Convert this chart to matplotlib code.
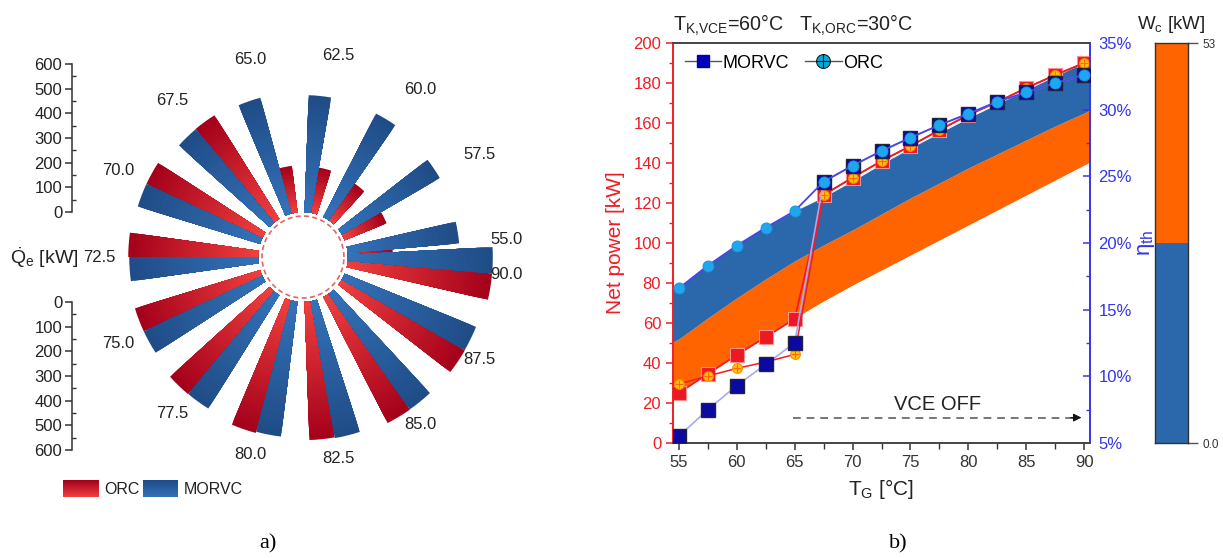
import numpy as np
import matplotlib
matplotlib.use('Agg')
import matplotlib.pyplot as plt
from matplotlib.lines import Line2D
from matplotlib.legend_handler import HandlerTuple
from matplotlib.colors import to_rgb
import matplotlib.ticker as mticker

plt.rcParams['font.family'] = ['Liberation Sans', 'DejaVu Sans']
plt.rcParams['mathtext.fontset'] = 'custom'
plt.rcParams['mathtext.rm'] = 'Liberation Sans'
plt.rcParams['mathtext.it'] = 'Liberation Sans:italic'
plt.rcParams['mathtext.bf'] = 'Liberation Sans:bold'

# ---------------- data ----------------
T_G = [55, 57.5, 60, 62.5, 65, 67.5, 70, 72.5, 75, 77.5, 80, 82.5, 85, 87.5, 90]
T_labels = ['55.0', '57.5', '60.0', '62.5', '65.0', '67.5', '70.0', '72.5',
            '75.0', '77.5', '80.0', '82.5', '85.0', '87.5', '90.0']

# panel a) evaporator heat [kW]
Qe_ORC = [182, 183, 182, 186, 190, 495, 518, 526, 530, 543, 556, 560, 573, 575, 587]
Qe_MORVC = [453, 458, 470, 474, 486, 494, 518, 522, 530, 542, 551, 563, 572, 574, 587]
radial_ticks = [0, 100, 200, 300, 400, 500, 600]

# panel b) net power [kW] and thermal efficiency [%]
P_MORVC = [25, 34.5, 44, 53, 62, 124, 132.7, 141, 148.5, 156.5, 164, 170.5, 177.5, 184, 190]
P_ORC = [29.5, 33.5, 37.3, 40.5, 44.3, 124, 132.7, 141, 148.5, 156.5, 164, 170.5, 177.5, 184, 190]
eta_MORVC = [5.5, 7.5, 9.3, 10.9, 12.5, 24.6, 25.8, 26.9, 27.9, 28.85, 29.7, 30.6, 31.3, 32.0, 32.6]
eta_ORC = [16.6, 18.3, 19.8, 21.15, 22.4, 24.6, 25.8, 26.9, 27.9, 28.85, 29.7, 30.6, 31.3, 32.0, 32.6]

# W_c bands (net power, kW)
band_T = [54.5, 55, 57.5, 60, 62.5, 65, 67.5, 70, 72.5, 75, 77.5, 80, 82.5, 85, 87.5, 90, 90.5]
band_low = [23.5, 25.5, 35, 44, 53, 62.5, 71, 79, 86.5, 94, 101.5, 109, 116.5, 124, 131.5, 139, 140.5]
band_mid = [50.5, 52, 62.5, 72.5, 82, 91, 99, 106.5, 114.5, 122.5, 130, 137.5, 144.5, 151.5, 158.5, 165, 166.5]
band_top = [77, 78, 89, 99, 108, 116, 123, 131, 139.5, 147.5, 155, 162.5, 169.5, 176.5, 183.5, 190, 191]
Wc_limits = [0, 53]

# ---------------- figure ----------------
W, H = 1223, 558
fig = plt.figure(figsize=(W / 100, H / 100), dpi=100)


def fx(px):
    return px / W


def fy(py):
    return 1 - py / H


RED_IN, RED_OUT = '#f0403f', '#a3001a'
BLUE_IN, BLUE_OUT = '#3472b9', '#1f4c86'

# ---------- panel a) polar bars ----------
cx, cy, R = 303, 257, 193
r_min = -182
axp = fig.add_axes([fx(cx - R), fy(cy + R), 2 * R / W, 2 * R / H], projection='polar')
axp.set_ylim(r_min, 600)
axp.set_theta_zero_location('E')
axp.set_axis_off()

theta_c = np.deg2rad(5 + (np.array(T_G) - 55) * 10)
bw = np.deg2rad(8)


def gradient_bars(ax, theta, values, c_in, c_out, n=40):
    # overlapping bars (longest/darkest first) -> smooth gradient without seams
    c_in = np.array(to_rgb(c_in))
    c_out = np.array(to_rgb(c_out))
    for th, v in zip(theta, values):
        for i in range(n, 0, -1):
            f = (i - 0.5) / n
            col = c_in + (c_out - c_in) * f
            ax.bar(th, v * i / n, width=bw, bottom=0, color=col, linewidth=0,
                   align='center')


gradient_bars(axp, theta_c - bw / 2, Qe_ORC, RED_IN, RED_OUT)
gradient_bars(axp, theta_c + bw / 2, Qe_MORVC, BLUE_IN, BLUE_OUT)

th = np.linspace(0, 2 * np.pi, 300)
axp.plot(th, np.full_like(th, -16), ls=(0, (3, 2)), color='#e06565', lw=1.2)

for t, lab in zip(theta_c, T_labels):
    axp.text(t, 645, lab, ha='center', va='center', fontsize=12, color='#222222')

# radial axes on the left
r0 = R * (0 - r_min) / (600 - r_min)
spx = 72
axu = fig.add_axes([fx(spx), fy(cy - r0), 0.0001, (R - r0) / H])
axl = fig.add_axes([fx(spx), fy(cy + R), 0.0001, (R - r0) / H])
for a, lim in ((axu, (0, 600)), (axl, (600, 0))):
    a.set_ylim(*lim)
    a.set_xticks([])
    for s in ('top', 'right', 'bottom'):
        a.spines[s].set_visible(False)
    a.spines['left'].set_color('#333333')
    a.spines['left'].set_linewidth(1.1)
    a.set_yticks(radial_ticks)
    a.yaxis.set_minor_locator(mticker.MultipleLocator(50))
    a.tick_params(axis='y', which='major', direction='out', length=5, width=1.1,
                  color='#333333', labelsize=12, labelcolor='#222222', pad=2)
    a.tick_params(axis='y', which='minor', direction='in', length=3, width=1,
                  color='#333333')
    a.patch.set_visible(False)

fig.text(fx(10), fy(258), r'$\dot{\mathrm{Q}}_\mathrm{e}$ [kW]', ha='left', va='center',
         fontsize=14, color='#222222')


# legend of panel a)
def grad_patch(x0, x1, y0, y1, c_top, c_bot):
    a = fig.add_axes([fx(x0), fy(y1), (x1 - x0) / W, (y1 - y0) / H])
    ct, cb = np.array(to_rgb(c_top)), np.array(to_rgb(c_bot))
    f = np.linspace(0, 1, 30)[:, None]
    img = (ct + (cb - ct) * f)[:, None, :]
    a.imshow(img, aspect='auto', interpolation='bilinear')
    a.set_axis_off()


grad_patch(63, 99, 480, 497, RED_OUT, RED_IN)
fig.text(fx(104), fy(489), 'ORC', ha='left', va='center', fontsize=11.5, color='#222222')
grad_patch(143, 178, 480, 497, BLUE_OUT, BLUE_IN)
fig.text(fx(184), fy(489), 'MORVC', ha='left', va='center', fontsize=11.5, color='#222222')

fig.text(fx(268), fy(544), 'a)', ha='center', va='center', fontsize=16,
         family='Liberation Serif')
fig.text(fx(898), fy(544), 'b)', ha='center', va='center', fontsize=16,
         family='Liberation Serif')

# ---------- panel b) ----------
RED = '#f01c24'
BLUE_AX = '#3535e8'
ax = fig.add_axes([fx(673), fy(443), (1090 - 673) / W, 400 / H])
ax.set_xlim(54.5, 90.5)
ax.set_ylim(0, 200)
ax.fill_between(band_T, band_low, band_mid, color='#ff6400', lw=0, zorder=1)
ax.fill_between(band_T, band_mid, band_top, color='#2b67ab', lw=0, zorder=1)

ax.plot(T_G, P_MORVC, color=RED, lw=1.3, marker='s', ms=10, mfc='#ec1822',
        mec='#ff9090', mew=0.8, zorder=3)
ax.plot(T_G, P_ORC, color=RED, lw=1.1, marker='o', ms=7, mfc='#ffc20e',
        mec='#ff8a00', mew=0.8, zorder=4)
ax.plot(T_G, P_ORC, ls='none', marker='+', ms=6, mec='#ff6a00', mew=0.8, zorder=5)

# VCE OFF annotation
ax.plot([64.9, 89.2], [12.7, 12.7], ls=(0, (4, 3)), color='#777777', lw=1.4, zorder=2)
ax.annotate('', xy=(90, 12.7), xytext=(88.6, 12.7),
            arrowprops=dict(arrowstyle='-|>', color='#111111', lw=0.8, mutation_scale=12))
ax.text(77.35, 19.5, 'VCE OFF', ha='center', va='center', fontsize=14.5, color='#222222')

ax.set_xticks(np.arange(55, 91, 5))
ax.xaxis.set_minor_locator(mticker.MultipleLocator(2.5))
ax.set_yticks(np.arange(0, 201, 20))
ax.yaxis.set_minor_locator(mticker.MultipleLocator(10))
ax.tick_params(axis='x', which='major', direction='out', length=5, width=1.1,
               color='#333333', labelcolor='#333333', labelsize=12)
ax.tick_params(axis='x', which='minor', direction='out', length=4, width=1, color='#333333')
ax.tick_params(axis='y', which='major', direction='out', length=5, width=1.1,
               color=RED, labelcolor=RED, labelsize=12)
ax.tick_params(axis='y', which='minor', direction='out', length=3, width=1, color=RED)
ax.set_ylabel('Net power [kW]', color=RED, fontsize=15, labelpad=6)
ax.set_xlabel(r'T$_\mathrm{G}$ [°C]', color='#222222', fontsize=15, labelpad=5)

ax2 = ax.twinx()
ax2.set_ylim(5, 35)
ax2.plot(T_G, eta_MORVC, color='#a8a8f2', lw=1.2, marker='s', ms=10, mfc='#0a0aa2',
         mec='#22223a', mew=1.0, zorder=3)
ax2.plot(T_G, eta_ORC, color='#4646e6', lw=1.3, marker='o', ms=8, mfc='#1ea6ee',
         mec='#1f8fd8', mew=0.6, zorder=4)
ax2.set_yticks(np.arange(5, 36, 5))
ax2.yaxis.set_minor_locator(mticker.MultipleLocator(2.5))
ax2.yaxis.set_major_formatter(mticker.FuncFormatter(lambda v, p: f'{v:.0f}%'))
ax2.tick_params(axis='y', which='major', direction='in', length=5, width=1.1,
                color=BLUE_AX, labelcolor=BLUE_AX, labelsize=12, pad=6)
ax2.tick_params(axis='y', which='minor', direction='in', length=3, width=1, color=BLUE_AX)
ax2.set_ylabel(r'η$_\mathrm{th}$', color=BLUE_AX, fontsize=16, rotation=90, labelpad=3)

for a in (ax, ax2):
    a.spines['left'].set_color(RED)
    a.spines['right'].set_color(BLUE_AX)
    a.spines['top'].set_color('#444444')
    a.spines['bottom'].set_color('#444444')
    for s in a.spines.values():
        s.set_linewidth(1.2)

h1 = Line2D([], [], color='#555555', lw=1, marker='s', ms=9, mfc='#0000b4', mec='#0000b4')
h2a = Line2D([], [], color='#555555', lw=1, marker='o', ms=10, mfc='#0aa8d6', mec='#222222', mew=0.8)
h2b = Line2D([], [], ls='none', marker='+', ms=10, mec='#111111', mew=0.8)
ax2.legend([h1, (h2a, h2b)], ['MORVC', 'ORC'], handler_map={tuple: HandlerTuple(ndivide=1)},
           loc='upper left', ncol=2, frameon=False, fontsize=13, handlelength=2.0,
           handletextpad=0.1, columnspacing=0.9, borderaxespad=0.25)

fig.text(fx(673), fy(25), r'T$_\mathrm{K{,}VCE}$=60°C   T$_\mathrm{K{,}ORC}$=30°C',
         ha='left', va='center', fontsize=14.2, color='#222222')

# colour bar for W_c
axc = fig.add_axes([fx(1155), fy(443), 33 / W, 400 / H])
axc.set_xlim(0, 1)
axc.set_ylim(*Wc_limits)
axc.axhspan(Wc_limits[0], np.mean(Wc_limits), color='#2b67ab', lw=0)
axc.axhspan(np.mean(Wc_limits), Wc_limits[1], color='#ff6400', lw=0)
axc.set_xticks([])
axc.yaxis.tick_right()
axc.set_yticks(Wc_limits)
axc.set_yticklabels(['0.0', '53'])
axc.tick_params(axis='y', length=7, width=1, color='#555555', labelsize=8.5,
                labelcolor='#333333')
for s in axc.spines.values():
    s.set_color('#333333')
    s.set_linewidth(1)
axc.set_title(r'W$_\mathrm{c}$ [kW]', fontsize=13.5, pad=10, color='#222222')

fig.savefig('out.png', dpi=100)
